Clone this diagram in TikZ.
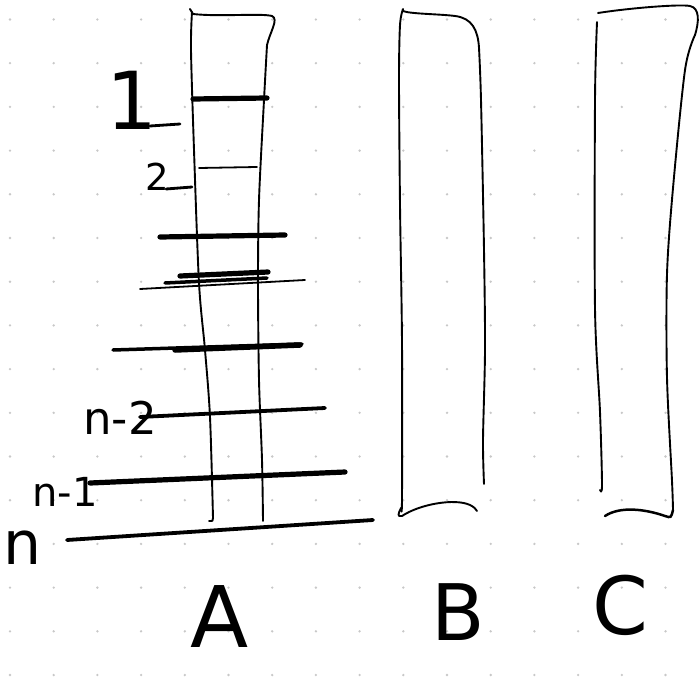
\documentclass[tikz,border=0pt]{standalone}
\usepackage{fontspec}
\newfontfamily\handfont{DejaVu Sans}
\definecolor{dotc}{RGB}{200,200,200}
\begin{document}
\begin{tikzpicture}[x=1pt,y=-1pt,
  peg/.style={line width=1.9pt,line cap=round,line join=round},
  diskthick/.style={line width=5.2pt,line cap=round},
  diskmid/.style={line width=3.5pt,line cap=round},
  diskthin/.style={line width=1.8pt,line cap=round},
  lbl/.style={inner sep=0pt,font=\handfont}]
\fill[white] (0,0) rectangle (700,676);
\useasboundingbox (0,0) rectangle (700,676);
% dot grid
\foreach \i in {0,...,15}{
  \foreach \j in {0,...,15}{
    \fill[dotc] ({10+43.7*\i},{19.5+43.7*\j}) circle (1.3pt);
  }
}
% ---------- peg A ----------
\draw[peg] plot[smooth] coordinates {(192,12)(191,50)(194,150)(199,283)(205,350)(210,417)(213,518)};
\draw[peg] (213,518) .. controls (213,521) .. (209,521);
\draw[peg] (190,9) -- (193,14);
\draw[peg] (193,14) .. controls (220,17) and (260,13) .. (272,16) .. controls (279,19) and (270,32) .. (267,45);
\draw[peg] plot[smooth] coordinates {(267,45)(264,100)(259,200)(258,283)(259,380)(262,460)(263,521)};
% ---------- peg B ----------
\draw[peg] plot[smooth] coordinates {(403,9)(400,25)(399,80)(400,205)(402,343)(402,498)(401,508)};
\draw[peg] (401,508) .. controls (398,514) and (397,517) .. (402,516) .. controls (420,504) and (455,498) .. (470,505) .. controls (474,507) and (476,509) .. (477,511);
\draw[peg] (403,11) .. controls (410,14) and (440,14) .. (455,16) .. controls (472,18) and (478,30) .. (479,48);
\draw[peg] plot[smooth] coordinates {(479,48)(481,100)(484,250)(485,350)(483,440)(484,484)};
% ---------- peg C ----------
\draw[peg] plot[smooth] coordinates {(597,22)(595,100)(595,309)(600,412)(602,485)(600,490)};
\draw[peg] (598,13) .. controls (630,8) and (680,4) .. (690,6) .. controls (700,8) and (699,22) .. (695,35);
\draw[peg] plot[smooth] coordinates {(695,35)(685,70)(673,188)(667,274)(667,378)(672,481)(673,510)};
\draw[line width=2.5pt,line cap=round] (673,510) .. controls (671,518) .. (665,516) .. controls (645,509) and (620,506) .. (605,516);
% ---------- disks on A ----------
\draw[diskthick] (193,99) -- (267,98);
\draw[diskthin] (199,168) -- (257,167);
\draw[diskthick] (160,237) -- (285,235);
\draw[diskthick] (180,276) -- (268,272);
\draw[diskmid] (165,283) -- (267,278);
\draw[diskthin] (140,289) -- (305,280);
\draw[diskmid] (113,350) -- (302,344);
\draw[line width=5.5pt,line cap=round] (175,350) -- (300,345);
\draw[line width=3.8pt,line cap=round] (140,417) -- (325,408);
\draw[diskthick] (90,483) -- (345,472);
\draw[line width=3.8pt,line cap=round] (67,540) -- (373,520);
% leader strokes of the labels
\draw[line width=2.8pt,line cap=round] (150,126) -- (180,124);
\draw[line width=2.8pt,line cap=round] (166,189) -- (192,187);
% ---------- labels ----------
\node[lbl,font=\handfont\fontsize{80}{80}\selectfont] (l1) at (132,100) {1};
\node[lbl,font=\handfont\fontsize{37}{37}\selectfont] (l2) at (157,177) {2};
\node[lbl,font=\handfont\fontsize{45}{45}\selectfont] (ln2) at (120,418) {n-2};
\node[lbl,font=\handfont\fontsize{40}{40}\selectfont] (ln1) at (65,492) {n-1};
\node[lbl,font=\handfont\fontsize{60}{60}\selectfont] (ln) at (23,548) {n};
\node[lbl,font=\handfont\fontsize{85}{85}\selectfont] (la) at (220,617) {A};
\node[lbl,font=\handfont\fontsize{78}{78}\selectfont] (lb) at (458,612) {B};
\node[lbl,font=\handfont\fontsize{80}{80}\selectfont] (lc) at (620,605) {C};
\end{tikzpicture}
\end{document}
